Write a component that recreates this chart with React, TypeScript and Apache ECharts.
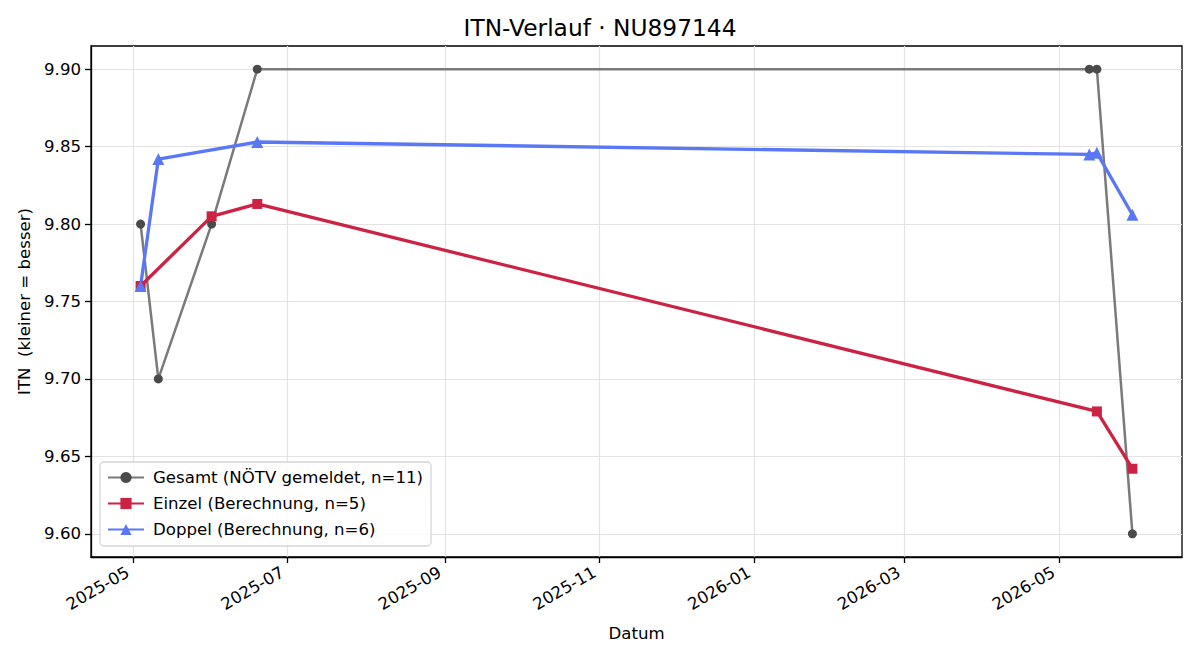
import React, { useEffect, useRef } from "react";
import * as echarts from "echarts";

const titleText = "ITN-Verlauf · NU897144";
const xAxisName = "Datum";
const yAxisName = "ITN  (kleiner = besser)";

const gesamtName = "Gesamt (NÖTV gemeldet, n=11)";
const gesamtDates = ["2025-05-04", "2025-05-11", "2025-06-01", "2025-06-19", "2026-05-13", "2026-05-16", "2026-05-30"];
const gesamtValues = [9.8, 9.7, 9.8, 9.9, 9.9, 9.9, 9.6];

const einzelName = "Einzel (Berechnung, n=5)";
const einzelDates = ["2025-05-04", "2025-06-01", "2025-06-19", "2026-05-16", "2026-05-30"];
const einzelValues = [9.76, 9.805, 9.813, 9.679, 9.642];

const doppelName = "Doppel (Berechnung, n=6)";
const doppelDates = ["2025-05-04", "2025-05-11", "2025-06-19", "2026-05-13", "2026-05-16", "2026-05-30"];
const doppelValues = [9.76, 9.842, 9.853, 9.845, 9.846, 9.806];

const xTickDates = ["2025-05-01", "2025-07-01", "2025-09-01", "2025-11-01", "2026-01-01", "2026-03-01", "2026-05-01"];
const yTicks = [9.6, 9.65, 9.7, 9.75, 9.8, 9.85, 9.9];

const FONT = "DejaVu Sans";
const ts = (d: string) => Date.parse(d + "T00:00:00Z");
const pair = (dates: string[], vals: number[]) => dates.map((d, i) => [ts(d), vals[i]]);
const fmtDate = (v: number) => {
  const d = new Date(v);
  return d.getUTCFullYear() + "-" + String(d.getUTCMonth() + 1).padStart(2, "0");
};

export default function App() {
  const ref = useRef<HTMLDivElement>(null);
  useEffect(() => {
    if (!ref.current) return;
    const chart = echarts.init(ref.current, null, { renderer: "svg" });
    const allX = [...gesamtDates, ...einzelDates, ...doppelDates].map(ts);
    const xLo = Math.min(...allX);
    const xHi = Math.max(...allX);
    const xPad = (xHi - xLo) * 0.05;
    const allY = [...gesamtValues, ...einzelValues, ...doppelValues];
    const yLo = Math.min(...allY);
    const yHi = Math.max(...allY);
    const yPad = (yHi - yLo) * 0.05;
    const xTicks = xTickDates.map(ts);

    chart.setOption({
      animation: false,
      textStyle: { fontFamily: FONT },
      title: {
        text: titleText,
        left: "center",
        top: 16,
        padding: 0,
        textStyle: { fontFamily: FONT, fontSize: 23.3, fontWeight: "normal", color: "#000" },
      },
      grid: {
        left: 91,
        right: 18,
        top: 46,
        bottom: 103,
        show: true,
        borderColor: "#000",
        borderWidth: 1.3,
        backgroundColor: "transparent",
      },
      legend: {
        orient: "vertical",
        left: 100,
        top: 462,
        padding: [7, 8, 8, 7],
        itemGap: 9,
        itemWidth: 36,
        itemHeight: 14,
        backgroundColor: "rgba(255,255,255,0.8)",
        borderColor: "#d6d6d6",
        borderWidth: 1.3,
        borderRadius: 4,
        textStyle: { fontFamily: FONT, fontSize: 16.6, color: "#000", padding: [0, 0, 0, 4] },
        data: [gesamtName, einzelName, doppelName],
      },
      xAxis: {
        type: "value",
        min: xLo - xPad,
        max: xHi + xPad,
        name: xAxisName,
        nameLocation: "middle",
        nameGap: 68,
        nameTextStyle: { fontFamily: FONT, fontSize: 16.6, color: "#000" },
        axisLine: { show: true, lineStyle: { color: "#000", width: 1.3 } },
        axisTick: { show: true, length: 6, customValues: xTicks, lineStyle: { color: "#000", width: 1.3 } },
        axisLabel: {
          customValues: xTicks,
          rotate: 30,
          margin: 11,
          padding: [0, 6, 0, 0],
          fontFamily: FONT,
          fontSize: 16.6,
          color: "#000",
          formatter: (v: number) => fmtDate(v),
        },
        splitLine: { show: true, lineStyle: { color: "#e3e3e3", width: 1.2 } },
      },
      yAxis: {
        type: "value",
        min: yLo - yPad,
        max: yHi + yPad,
        name: yAxisName,
        nameLocation: "middle",
        nameGap: 56,
        nameTextStyle: { fontFamily: FONT, fontSize: 16.6, color: "#000" },
        axisLine: { show: true, lineStyle: { color: "#000", width: 1.3 } },
        axisTick: { show: true, length: 6, customValues: yTicks, lineStyle: { color: "#000", width: 1.3 } },
        axisLabel: {
          customValues: yTicks,
          margin: 10,
          fontFamily: FONT,
          fontSize: 16.6,
          color: "#000",
          formatter: (v: number) => v.toFixed(2),
        },
        splitLine: { show: true, lineStyle: { color: "#e3e3e3", width: 1.2 } },
      },
      series: [
        {
          name: gesamtName,
          type: "line",
          data: pair(gesamtDates, gesamtValues),
          symbol: "circle",
          symbolSize: 9,
          lineStyle: { color: "#7a7a7a", width: 2.5 },
          itemStyle: { color: "#4a4a4a" },
          color: "#7a7a7a",
        },
        {
          name: einzelName,
          type: "line",
          data: pair(einzelDates, einzelValues),
          symbol: "rect",
          symbolSize: 10,
          lineStyle: { color: "#cc2244", width: 3.3 },
          itemStyle: { color: "#cc2244" },
          color: "#cc2244",
        },
        {
          name: doppelName,
          type: "line",
          data: pair(doppelDates, doppelValues),
          symbol: "triangle",
          symbolSize: 12,
          lineStyle: { color: "#5a78f5", width: 3.3 },
          itemStyle: { color: "#5a78f5" },
          color: "#5a78f5",
        },
      ],
    });
    return () => chart.dispose();
  }, []);
  return <div ref={ref} style={{ width: 1200, height: 660, position: "absolute", left: 0, top: 0 }} />;
}
